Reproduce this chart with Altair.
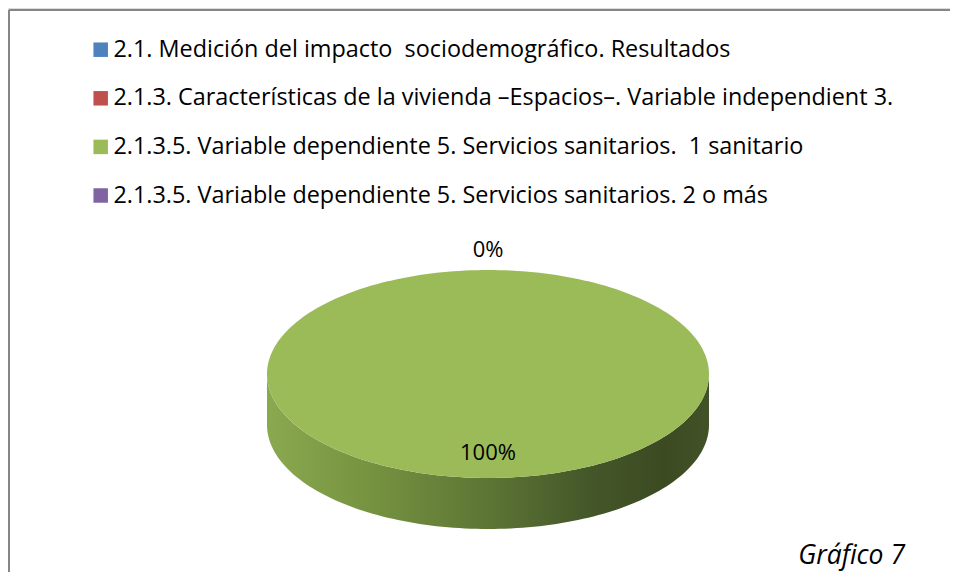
import math
import altair as alt
import pandas as pd

# ---- data ----
categories = [
    "2.1. Medición del impacto  sociodemográfico. Resultados",
    "2.1.3. Características de la vivienda –Espacios–. Variable independient 3.",
    "2.1.3.5. Variable dependiente 5. Servicios sanitarios.  1 sanitario",
    "2.1.3.5. Variable dependiente 5. Servicios sanitarios. 2 o más",
]
values = [0, 0, 100, 0]
colors = ["#4f81bd", "#c0504d", "#9bbb59", "#8064a2"]
caption = ["Gráfico 7"]

# ---- layout (pixels in chart space) ----
W, H = 942, 564
CX, CY = 480, 366       # centre of top face
RX, RY = 221, 104       # radii of top face
DEPTH = 51              # thickness of the pie
FONT = "Open Sans"

# unit coordinates -> scales
x_dom = [-CX / RX, (W - CX) / RX]
y_dom = [-(H - CY) / RY, CY / RY]
depth_u = DEPTH / RY

total = sum(values)
top_rows, side_rows, label_rows = [], [], []
seen = set()
start = 0.0
N = 240
for cat, val in zip(categories, values):
    a0 = start
    a1 = start + 360.0 * val / total
    start = a1
    mid = (a0 + a1) / 2
    r = 0.76 if val > 0 else 1.19
    lu = r * math.sin(math.radians(mid))
    lv = r * math.cos(math.radians(mid))
    key = (round(lu, 3), round(lv, 3), val)
    if key not in seen:  # coincident labels are drawn once
        seen.add(key)
        label_rows.append({"cat": cat, "u": lu, "v": lv, "txt": f"{val}%"})
    if val <= 0:
        continue
    steps = max(2, int(N * (a1 - a0) / 360))
    k = 0
    if a1 - a0 < 360:
        top_rows.append({"cat": cat, "o": k, "u": 0.0, "v": 0.0}); k += 1
    for i in range(steps + 1):
        t = math.radians(a0 + (a1 - a0) * i / steps)
        top_rows.append({"cat": cat, "o": k, "u": math.sin(t), "v": math.cos(t)}); k += 1
    # visible side: front half (90..270 degrees)
    s0, s1 = max(a0, 90.0), min(a1, 270.0)
    if s1 > s0:
        ss = max(2, int(N * (s1 - s0) / 360))
        pts = [math.radians(s0 + (s1 - s0) * i / ss) for i in range(ss + 1)]
        j = 0
        for t in pts:
            side_rows.append({"cat": cat, "o": j, "u": math.sin(t), "v": math.cos(t)}); j += 1
        for t in reversed(pts):
            side_rows.append({"cat": cat, "o": j, "u": math.sin(t), "v": math.cos(t) - depth_u}); j += 1

top_df = pd.DataFrame(top_rows)
side_df = pd.DataFrame(side_rows)
lab_df = pd.DataFrame(label_rows)

xs = alt.Scale(domain=x_dom, nice=False, zero=False)
ys = alt.Scale(domain=y_dom, nice=False, zero=False)
X = alt.X("u:Q", scale=xs, axis=None)
Y = alt.Y("v:Q", scale=ys, axis=None)

side_grad = alt.Gradient(
    gradient="linear", x1=0, x2=1, y1=0, y2=0,
    stops=[
        alt.GradientStop(color="#8aa94f", offset=0.0),
        alt.GradientStop(color="#74913f", offset=0.25),
        alt.GradientStop(color="#5d7535", offset=0.5),
        alt.GradientStop(color="#45582a", offset=0.72),
        alt.GradientStop(color="#3c4a22", offset=0.9),
        alt.GradientStop(color="#425228", offset=1.0),
    ],
)

side = alt.Chart(side_df).mark_line(filled=True, fill=side_grad, strokeWidth=0, interpolate="linear").encode(
    x=X, y=Y, order="o:Q", detail="cat:N"
)

top = alt.Chart(top_df).mark_line(filled=True, strokeWidth=0).encode(
    x=X, y=Y, order="o:Q",
    color=alt.Color(
        "cat:N",
        scale=alt.Scale(domain=categories, range=colors),
        sort=categories,
        legend=alt.Legend(
            title=None, orient="none", legendX=81, legendY=30,
            symbolType="square", symbolSize=210, symbolStrokeWidth=0,
            labelFont=FONT, labelFontSize=23.4, labelColor="#000000",
            labelLimit=0, labelOffset=1, rowPadding=23.6,
            labelExpr="replace(datum.label, '  ', '\u00a0 ')",
        ),
    ),
)

labels = alt.Chart(lab_df).mark_text(font=FONT, fontSize=22, color="#000000").encode(
    x=X, y=Y, text="txt:N"
)

cap = alt.Chart(pd.DataFrame({"c": caption})).mark_text(
    font=FONT, fontSize=26.5, fontStyle="italic", align="right", baseline="middle", color="#000000"
).encode(text="c:N", x=alt.value(897), y=alt.value(548))

border_v = alt.Chart(pd.DataFrame({"a": [0]})).mark_rule(color="#868686", strokeWidth=2).encode(
    x=alt.value(1), y=alt.value(2), y2=alt.value(H)
)
border_h = alt.Chart(pd.DataFrame({"a": [0]})).mark_rule(color="#868686", strokeWidth=2).encode(
    x=alt.value(1), x2=alt.value(W), y=alt.value(2)
)

chart = alt.layer(side, top, labels, cap, border_v, border_h).properties(
    width=W, height=H, autosize=alt.AutoSizeParams(type="none"), padding=0
).configure_view(stroke=None).configure(background="#ffffff")

chart.save("out.html", embed_options={"renderer": "svg", "actions": False})
